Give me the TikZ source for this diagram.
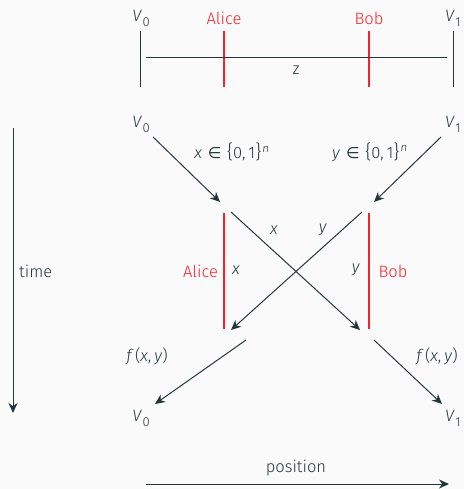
\documentclass[tikz,border=0pt]{standalone}
\usepackage{fontspec}
\setmainfont{Fira Sans Light}[ItalicFont={Fira Sans Light Italic}]
\newfontfamily\symf{DejaVu Sans}
\usetikzlibrary{arrows.meta}
\definecolor{mdark}{HTML}{23373B}
\definecolor{mred}{HTML}{F5222B}
\definecolor{bg}{HTML}{FAFAFA}
\newcommand{\iv}[1]{\textit{#1}}
\newcommand{\VV}[1]{\textit{V}\kern0.5pt\raisebox{-0.3em}{\fontsize{13}{13}\selectfont #1}}
\newcommand{\memb}{\hspace{6pt}{\symf\fontsize{15.5}{15}\selectfont∈}\hspace{5.5pt}}
\newcommand{\setlab}{{\fontsize{19}{18}\selectfont\{}0,\kern3pt1{\fontsize{19}{18}\selectfont\}}\kern1pt\textsuperscript{\iv{n}}}
\begin{document}
\begin{tikzpicture}[x=1pt,y=-1pt,
  every node/.style={inner sep=0pt,text=mdark,font=\fontsize{16.5}{18}\selectfont},
  ln/.style={draw=mdark,line width=1pt},
  rl/.style={draw=mred,line width=1.1pt},
  arr/.style={draw=mdark,line width=1pt,-{Stealth[length=10pt,width=9pt]}},
  rtxt/.style={text=mred}]
\fill[bg] (0,0) rectangle (464,489);
\useasboundingbox (0,0) rectangle (464,489);
% top section
\node (tv0) at (141,18) {\VV{0}};
\node (tv1) at (453,18) {\VV{1}};
\node[rtxt] (ta) at (224,18) {Alice};
\node[rtxt] (tb) at (369,18) {Bob};
\coordinate (v0t) at (140,31); \coordinate (v0b) at (140,87);
\coordinate (v1t) at (453,31); \coordinate (v1b) at (453,87);
\coordinate (at) at (224,31); \coordinate (ab) at (224,87);
\coordinate (bt) at (369,31); \coordinate (bb) at (369,87);
\draw[ln] (v0t) -- (v0b);
\draw[ln] (v1t) -- (v1b);
\draw[rl] (at) -- (ab);
\draw[rl] (bt) -- (bb);
\coordinate (zl) at (146,58); \coordinate (zr) at (447,58);
\draw[ln] (zl) -- (zr);
\node (z) at (296,70) {z};
% middle
\node (mv0) at (141,124) {\VV{0}};
\node (mv1) at (453,124) {\VV{1}};
\coordinate (a1s) at (153,137); \coordinate (a1e) at (220,202);
\coordinate (a2s) at (441,137); \coordinate (a2e) at (374,202);
\draw[arr] (a1s) -- (a1e);
\draw[arr] (a2s) -- (a2e);
\node (lx) at (232,152) {\iv{x}\memb\setlab};
\node (ly) at (370,152) {\iv{y}\memb\setlab};
% Alice / Bob lines
\coordinate (alt) at (224,213); \coordinate (alb) at (224,329);
\coordinate (blt) at (369,213); \coordinate (blb) at (369,329);
\draw[rl] (alt) -- (alb);
\draw[rl] (blt) -- (blb);
\node[rtxt] (al) at (200.5,271) {Alice};
\node[rtxt] (bl) at (393,271) {Bob};
\node (ax) at (236,270) {\iv{x}};
\node (by) at (356,270) {\iv{y}};
% cross
\coordinate (c1s) at (231,212); \coordinate (c1e) at (360,330);
\coordinate (c2s) at (362,212); \coordinate (c2e) at (231,330);
\draw[arr] (c1s) -- (c1e);
\draw[arr] (c2s) -- (c2e);
\node (cx) at (274,230) {\iv{x}};
\node (cy) at (323,230) {\iv{y}};
% bottom
\coordinate (b1s) at (246,340); \coordinate (b1e) at (155,404);
\coordinate (b2s) at (374,340); \coordinate (b2e) at (442,404);
\draw[arr] (b1s) -- (b1e);
\draw[arr] (b2s) -- (b2e);
\node (f1) at (147,356) {\iv{f}\kern1.5pt(\iv{x},\kern3pt\iv{y})};
\node (f2) at (437,356) {\iv{f}\kern1.5pt(\iv{x},\kern3pt\iv{y})};
\node (bv0) at (141,418) {\VV{0}};
\node (bv1) at (453,418) {\VV{1}};
% axes
\coordinate (ts) at (13,128); \coordinate (te) at (13,413);
\draw[arr] (ts) -- (te);
\node[anchor=west] (time) at (19,271) {time};
\coordinate (ps) at (146,484); \coordinate (pe) at (449,484);
\draw[arr] (ps) -- (pe);
\node (pos) at (296,468) {position};
\end{tikzpicture}
\end{document}
